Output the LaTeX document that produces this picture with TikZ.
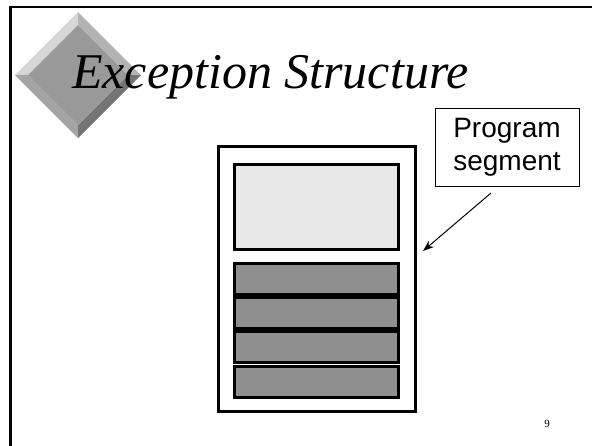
\documentclass[tikz,border=0pt]{standalone}
\usepackage{fontspec}
\setmainfont{Liberation Serif}
\newfontfamily\arialfont{Liberation Sans}
\usetikzlibrary{arrows.meta}
\definecolor{bevelTL}{HTML}{D6D6D6}
\definecolor{bevelTR}{HTML}{B4B4B4}
\definecolor{bevelBL}{HTML}{A4A4A4}
\definecolor{bevelBR}{HTML}{747474}
\definecolor{faceGray}{HTML}{999999}
\definecolor{lightFill}{HTML}{E8E8E8}
\definecolor{darkFill}{HTML}{8F8F8F}
\tikzset{
  framebox/.style={draw=black, line width=2.8pt, fill=white, inner sep=0pt},
  lightbox/.style={draw=black, line width=3pt, fill=lightFill, inner sep=0pt},
  darkbox/.style={draw=black, line width=3pt, fill=darkFill, inner sep=0pt,
    minimum width=164pt, minimum height=31pt},
  calloutbox/.style={draw=black, line width=0.8pt, fill=white, align=center,
    font=\arialfont\fontsize{28}{33}\selectfont, inner sep=0pt},
  pointer/.style={-{Stealth[length=11pt,width=8pt]}, line width=1pt},
}
\begin{document}
\begin{tikzpicture}[x=1pt,y=-1pt]
\useasboundingbox (0,0) rectangle (592,445);
\fill[white] (0,0) rectangle (592,445);
% slide border (top and left)
\draw[line width=2.8pt] (10.5,447) -- (10.5,7) -- (594,7);
% diamond bullet
\fill[bevelTL] (78,12) -- (15,75) -- (28,75) -- (78,25) -- cycle;
\fill[bevelTR] (78,12) -- (141,75) -- (128,75) -- (78,25) -- cycle;
\fill[bevelBL] (15,75) -- (78,138) -- (78,125) -- (28,75) -- cycle;
\fill[bevelBR] (141,75) -- (78,138) -- (78,125) -- (128,75) -- cycle;
\fill[faceGray] (78,25) -- (128,75) -- (78,125) -- (28,75) -- cycle;
% title
\node[anchor=base west, inner sep=0pt, font=\itshape\fontsize{50}{60}\selectfont] (title) at (72,88) {Exception Structure};
% program structure
\node[framebox, minimum width=197pt, minimum height=265pt] (frame) at (317,279) {};
\node[lightbox, minimum width=164pt, minimum height=85pt] (upper) at (316.5,207) {};
\node[darkbox] (b1) at (316.5,279) {};
\node[darkbox] (b2) at (316.5,313) {};
\node[darkbox] (b3) at (316.5,347.2) {};
\node[darkbox] (b4) at (316.5,381.7) {};
% callout
\node[calloutbox, minimum width=144pt, minimum height=78pt] (callout) at (507,147) {Program\\segment};
\coordinate (ptrstart) at (491,193);
\coordinate (ptrend) at (423,251);
\draw[pointer] (ptrstart) -- (ptrend);
% page number
\node[font=\fontsize{11}{13}\selectfont, inner sep=0pt] (pagenum) at (547,424) {9};
\end{tikzpicture}
\end{document}
